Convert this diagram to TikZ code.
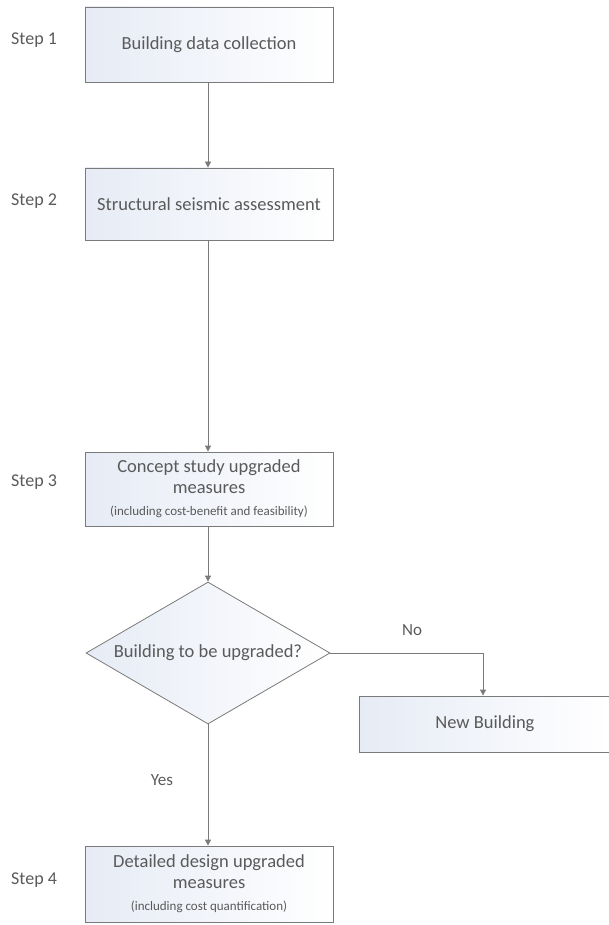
\documentclass[tikz,border=0pt]{standalone}
\usepackage{fontspec}
\setmainfont{Carlito}
\usetikzlibrary{arrows.meta,shapes.geometric}
\definecolor{txt}{HTML}{5A5A5A}
\definecolor{ln}{HTML}{7A7A7A}
\definecolor{tint}{HTML}{E6EBF5}
\tikzset{
  box/.style={draw=ln, line width=0.8pt, left color=tint, right color=white, text=txt,
    minimum width=248pt, inner sep=0pt, align=center, font=\fontsize{18.5}{21}\selectfont},
  steplbl/.style={text=txt, font=\fontsize{18}{20}\selectfont, anchor=west, inner sep=0pt},
  conn/.style={draw=ln, line width=0.8pt, -{Triangle[width=6pt,length=6pt]}},
  lbl/.style={text=txt, font=\fontsize{17}{20}\selectfont, inner sep=0pt}
}
\newcommand{\smalltxt}[1]{{\fontsize{13}{15}\selectfont #1}}
\begin{document}
\begin{tikzpicture}[x=1pt,y=-1pt]
\useasboundingbox (0,0) rectangle (609,925);
\begin{scope}
\clip (0,0) rectangle (609,925);
\node[box, minimum height=75pt] (b1) at (209,44.5) {Building data collection};
\node[box, minimum height=72pt] (b2) at (209,204) {Structural seismic assessment};
\node[box, minimum height=74pt] (b3) at (209,489) {Concept study upgraded\\measures\\[1pt]\smalltxt{(including cost-benefit and feasibility)}};
\node[draw=ln, line width=0.8pt, diamond, left color=tint, right color=white,
  minimum width=244pt, minimum height=142pt, inner sep=0pt] (d) at (208,653) {};
\node[box, minimum height=56pt, minimum width=251pt, anchor=west] (nb) at (359,724) {New Building};
\node[box, minimum height=76pt] (b4) at (209,884) {Detailed design upgraded\\measures\\[1pt]\smalltxt{(including cost quantification)}};
\end{scope}
\node[text=txt, font=\fontsize{18.5}{21}\selectfont, inner sep=0pt] (dt) at (d.center) {Building to be upgraded?};
\node[steplbl] (s1) at (11,40) {Step 1};
\node[steplbl] (s2) at (11,201) {Step 2};
\node[steplbl] (s3) at (11,482) {Step 3};
\node[steplbl] (s4) at (11,880) {Step 4};
\node[lbl] (no) at (412,630) {No};
\node[lbl] (yes) at (162,780) {Yes};
\draw[conn] (b1.south -| d.north) -- (b2.north -| d.north);
\draw[conn] (b2.south -| d.north) -- (b3.north -| d.north);
\draw[conn] (b3.south -| d.north) -- (d.north);
\coordinate (turn) at (483,653);
\draw[conn] (d.east) -- (turn) -- (nb.north -| turn);
\draw[conn] (d.south) -- (b4.north -| d.south);
\end{tikzpicture}
\end{document}
